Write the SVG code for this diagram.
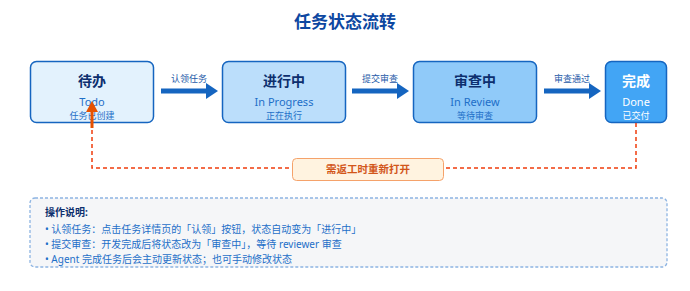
<svg xmlns="http://www.w3.org/2000/svg" width="690" height="291" viewBox="0 0 690 291">
<style>
text{font-family:"Noto Sans","Noto Sans CJK SC",sans-serif}
.title{font-size:17px;font-weight:bold;fill:#0d47a1;text-anchor:middle}
.box{stroke:#1565c0;stroke-width:1.5}
.nt{font-size:14px;font-weight:bold;fill:#0d2f6e;text-anchor:middle}
.en{font-size:11px;fill:#1e6fc8;text-anchor:middle}
.sub{font-size:9px;fill:#1e6fc8;text-anchor:middle}
.w{fill:#ffffff}
.el{font-size:9px;fill:#1e5aa8;text-anchor:middle}
.flow{stroke:#1565c0;stroke-width:5;fill:none}
.loop{stroke:#f03c0c;stroke-width:1.5;stroke-dasharray:4,3;fill:none}
.note{font-size:10px;fill:#1e6fc8}
</style>
<rect width="690" height="291" fill="#ffffff"/>
<text class="title" x="345" y="28">任务状态流转</text>

<g id="connectors">
<g id="e1"><line class="flow" x1="161" y1="91" x2="208" y2="91"/><path d="M206,83 L218,91 L206,99 z" fill="#1565c0"/><text class="el" x="189" y="82">认领任务</text></g>
<g id="e2"><line class="flow" x1="352" y1="91" x2="399" y2="91"/><path d="M397,83 L409,91 L397,99 z" fill="#1565c0"/><text class="el" x="380" y="82">提交审查</text></g>
<g id="e3"><line class="flow" x1="544" y1="91" x2="591" y2="91"/><path d="M589,83 L601,91 L589,99 z" fill="#1565c0"/><text class="el" x="572" y="82">审查通过</text></g>
</g>

<g id="todo">
<rect class="box" x="30.5" y="61.5" width="123" height="61" rx="6" fill="#e3f2fd"/>
<text class="nt" x="92" y="86">待办</text>
<text class="en" x="92" y="106">Todo</text>
<text class="sub" x="92" y="119">任务已创建</text>
</g>
<g id="progress">
<rect class="box" x="222.5" y="61.5" width="123" height="61" rx="6" fill="#bbdefb"/>
<text class="nt" x="284" y="86">进行中</text>
<text class="en" x="284" y="106">In Progress</text>
<text class="sub" x="284" y="119">正在执行</text>
</g>
<g id="review">
<rect class="box" x="413.5" y="61.5" width="123" height="61" rx="6" fill="#90caf9"/>
<text class="nt" x="475" y="86">审查中</text>
<text class="en" x="475" y="106">In Review</text>
<text class="sub" x="475" y="119">等待审查</text>
</g>
<g id="done">
<rect class="box" x="605.5" y="61.5" width="61" height="61" rx="6" fill="#42a5f5"/>
<text class="nt w" x="636" y="86">完成</text>
<text class="en w" x="636" y="106">Done</text>
<text class="sub w" x="636" y="119">已交付</text>
</g>

<g id="reopen">
<path class="loop" d="M636,123 L636,168 L92,168 L92,112"/>
<line x1="92" y1="128" x2="92" y2="110" stroke="#e65100" stroke-width="3"/>
<path d="M86,112 L92,101 L98,112 z" fill="#e65100"/>
<rect x="292.5" y="158.5" width="151" height="22" rx="4" fill="#fff3e0" stroke="#f5a26a" stroke-width="1"/>
<text x="368" y="173" font-size="10.5" font-weight="bold" fill="#d2561a" text-anchor="middle">需返工时重新打开</text>
</g>

<g id="notes">
<rect x="30" y="198" width="637" height="69" rx="5" fill="#f5f6f8" stroke="#8db4e2" stroke-width="1.3" stroke-dasharray="3,2"/>
<text x="45" y="216" font-size="10" font-weight="bold" fill="#0d2f6e">操作说明:</text>
<text class="note" x="45" y="233">• 认领任务：点击任务详情页的「认领」按钮，状态自动变为「进行中」</text>
<text class="note" x="45" y="248">• 提交审查：开发完成后将状态改为「审查中」，等待 reviewer 审查</text>
<text class="note" x="45" y="263">• Agent 完成任务后会主动更新状态；也可手动修改状态</text>
</g>
</svg>
